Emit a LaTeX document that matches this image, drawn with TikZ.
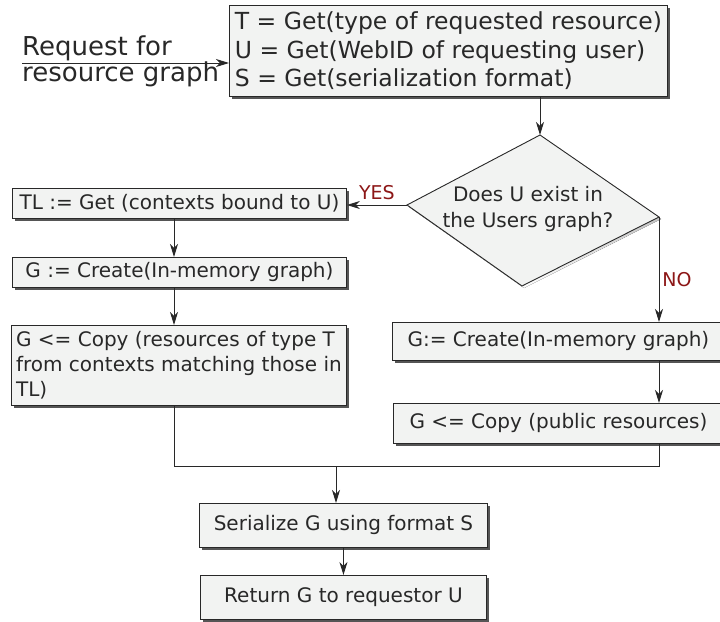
\documentclass[tikz,border=0pt]{standalone}
\usepackage{fontspec}
\setmainfont{DejaVu Sans}
\usetikzlibrary{arrows.meta, positioning, shadows}
\definecolor{boxfill}{RGB}{242,243,242}
\definecolor{ink}{RGB}{40,40,40}
\definecolor{answerred}{RGB}{140,22,22}
\definecolor{shade}{RGB}{85,85,85}

\begin{document}
\begin{tikzpicture}[
  x=1pt, y=-1pt,
  >={Stealth[length=13pt,width=8pt,inset=4pt]},
  stepbox/.style={draw=ink, fill=boxfill, rectangle, anchor=north west, inner sep=3pt, line width=0.9pt, text=ink, font=\fontsize{20}{25}\selectfont, drop shadow={shadow xshift=3pt, shadow yshift=-3pt, fill=shade, opacity=1}},
  answer/.style={text=answerred, font=\fontsize{19}{23}\selectfont, inner sep=0pt},
  flow/.style={draw=ink, line width=0.9pt}
]
\useasboundingbox (0,0) rectangle (720,621);

\node[stepbox, minimum width=438pt, minimum height=91pt, align=left, font=\fontsize{23.5}{28.5}\selectfont] (head) at (229,5) {T = Get(type of requested resource)\\U = Get(WebID of requesting user)\\S = Get(serialization format)};
\node[anchor=base west, font=\fontsize{26}{26}\selectfont, text=ink, inner sep=0pt] (req1) at (22,55) {Request for};
\node[anchor=base west, font=\fontsize{26}{26}\selectfont, text=ink, inner sep=0pt] (req2) at (22,81) {resource graph};
\coordinate (reqstart) at (22,63);

\coordinate (dtop) at (540,135);
\coordinate (dright) at (659,217);
\coordinate (dbot) at (522,286);
\coordinate (dleft) at (407,205);
\fill[shade] ([shift={(2,2)}]dtop) -- ([shift={(2,2)}]dright) -- ([shift={(2,2)}]dbot) -- ([shift={(2,2)}]dleft) -- cycle;
\draw[flow, fill=boxfill] (dtop) -- (dright) -- (dbot) -- (dleft) -- cycle;
\node[text=ink, font=\fontsize{20}{25.5}\selectfont, align=center] (ask) at (528,209) {Does U exist in\\the Users graph?};

\node[stepbox, minimum width=334pt, minimum height=30pt] (tlbox) at (12,188) {TL := Get (contexts bound to U)};
\node[stepbox, minimum width=334pt, minimum height=30pt] (gcreate) at (12,257) {G := Create(In-memory graph)};
\node[stepbox, minimum width=335pt, minimum height=80pt, align=left] (gcopy) at (11,325) {G <= Copy (resources of type T\\from contexts matching those in\\TL)};
\node[stepbox, minimum width=332pt, minimum height=38pt] (pubcreate) at (392,322) {G:= Create(In-memory graph)};
\node[stepbox, minimum width=330pt, minimum height=40pt] (pubcopy) at (393,403) {G <= Copy (public resources)};
\node[stepbox, minimum width=288pt, minimum height=44pt] (serial) at (199,503) {Serialize G using format S};
\node[stepbox, minimum width=286pt, minimum height=44pt] (ret) at (200,575) {Return G to requestor U};
\coordinate (leftcol) at (174,0);
\coordinate (merge) at (336,466);

\draw[flow,->] (reqstart) -- (reqstart -| head.west);
\draw[flow,->] (dtop |- head.south) -- (dtop);
\draw[flow,->] (dleft) -- (dleft -| tlbox.east) node[answer, midway, above=5pt] {YES};
\draw[flow,->] (leftcol |- tlbox.south) -- (leftcol |- gcreate.north);
\draw[flow,->] (leftcol |- gcreate.south) -- (leftcol |- gcopy.north);
\draw[flow,->] (dright) -- (dright |- pubcreate.north) node[answer, pos=0.6, right=3pt] {NO};
\draw[flow,->] (dright |- pubcreate.south) -- (dright |- pubcopy.north);
\draw[flow] (leftcol |- gcopy.south) |- (merge);
\draw[flow] (dright |- pubcopy.south) |- (merge);
\draw[flow,->] (merge) -- (merge |- serial.north);
\draw[flow,->] (serial.south) -- (ret.north);
\end{tikzpicture}
\end{document}
